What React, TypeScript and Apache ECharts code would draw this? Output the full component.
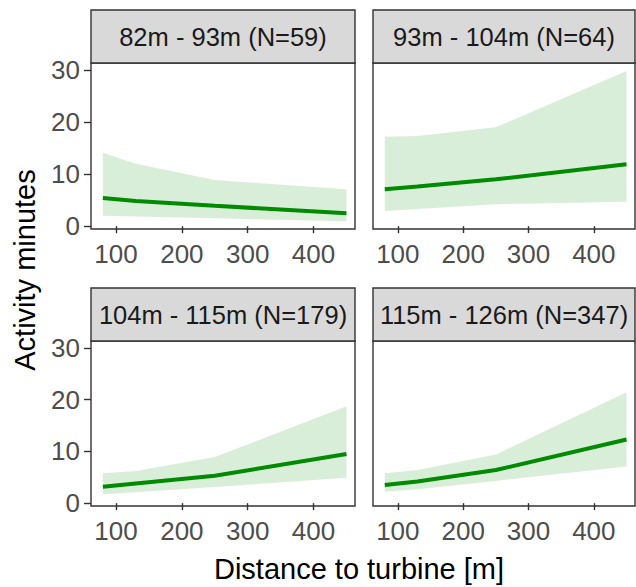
import React, { useEffect, useRef } from "react";
import * as echarts from "echarts";

const distances = [80, 130, 250, 450];
const panelTitles = [
  "82m - 93m (N=59)",
  "93m - 104m (N=64)",
  "104m - 115m (N=179)",
  "115m - 126m (N=347)",
];
const fitA = [5.4, 4.85, 3.9, 2.5];
const upperA = [14.1, 12.0, 8.85, 7.1];
const lowerA = [2.0, 1.85, 1.5, 0.95];

const fitB = [7.1, 7.6, 9.0, 11.9];
const upperB = [17.2, 17.3, 19.0, 29.8];
const lowerB = [2.9, 3.3, 4.2, 4.7];

const fitC = [3.15, 3.8, 5.3, 9.5];
const upperC = [5.8, 6.2, 8.9, 18.75];
const lowerC = [1.7, 2.1, 3.1, 4.9];

const fitD = [3.5, 4.2, 6.4, 12.3];
const upperD = [5.8, 6.4, 9.4, 21.45];
const lowerD = [2.2, 2.7, 4.3, 7.1];

const xTicks = [100, 200, 300, 400];
const yTicks = [0, 10, 20, 30];
const xTitle = "Distance to turbine [m]";
const yTitle = "Activity minutes";

const fits = [fitA, fitB, fitC, fitD];
const uppers = [upperA, upperB, upperC, upperD];
const lowers = [lowerA, lowerB, lowerC, lowerD];

const FONT = "'Liberation Sans', Arial, sans-serif";
const STRIP_H = 53;
const layout = [
  { left: 91, top: 63, width: 264, height: 166 },
  { left: 373, top: 63, width: 262, height: 166 },
  { left: 91, top: 341, width: 264, height: 165 },
  { left: 373, top: 341, width: 262, height: 165 },
];

export default function App() {
  const ref = useRef<HTMLDivElement>(null);
  useEffect(() => {
    document.body.style.margin = "0";
    const chart = echarts.init(ref.current!, null, { renderer: "svg" });
    const grids = layout.map((g) => ({
      left: g.left,
      top: g.top,
      width: g.width,
      height: g.height,
      show: true,
      backgroundColor: "#FFFFFF",
      borderColor: "#333333",
      borderWidth: 1.4,
      containLabel: false,
    }));
    const xAxes = layout.map((_, i) => ({
      type: "value",
      gridIndex: i,
      min: 62,
      max: 463,
      splitLine: { show: false },
      axisLine: { show: false },
      axisTick: {
        show: true,
        length: 7,
        customValues: xTicks,
        lineStyle: { color: "#333333", width: 1.4 },
      },
      axisLabel: {
        show: true,
        customValues: xTicks,
        color: "#4D4D4D",
        fontSize: 26,
        fontFamily: FONT,
        margin: 12,
      },
    }));
    const yAxes = layout.map((_, i) => ({
      type: "value",
      gridIndex: i,
      min: -0.55,
      max: 31.35,
      splitLine: { show: false },
      axisLine: { show: false },
      axisTick: {
        show: i % 2 === 0,
        length: 7,
        customValues: yTicks,
        lineStyle: { color: "#333333", width: 1.4 },
      },
      axisLabel: {
        show: i % 2 === 0,
        customValues: yTicks,
        color: "#4D4D4D",
        fontSize: 26,
        fontFamily: FONT,
        margin: 11,
      },
    }));
    const series: any[] = [];
    for (let i = 0; i < 4; i++) {
      const up = uppers[i];
      const lo = lowers[i];
      series.push({
        type: "custom",
        xAxisIndex: i,
        yAxisIndex: i,
        coordinateSystem: "cartesian2d",
        data: [[distances[0], lo[0]]],
        renderItem: (_params: any, api: any) => {
          const pts: number[][] = [];
          for (let k = 0; k < distances.length; k++) pts.push(api.coord([distances[k], up[k]]));
          for (let k = distances.length - 1; k >= 0; k--) pts.push(api.coord([distances[k], lo[k]]));
          return {
            type: "polygon",
            shape: { points: pts },
            style: { fill: "rgba(0,139,0,0.15)" },
          };
        },
        z: 1,
      });
      series.push({
        type: "line",
        xAxisIndex: i,
        yAxisIndex: i,
        symbol: "none",
        lineStyle: { color: "#008B00", width: 4 },
        data: distances.map((d, k) => [d, fits[i][k]]),
        z: 3,
      });
    }
    const graphics: any[] = [];
    layout.forEach((g, i) => {
      graphics.push({
        type: "rect",
        shape: { x: g.left, y: g.top - STRIP_H, width: g.width, height: STRIP_H },
        style: { fill: "#D9D9D9", stroke: "#333333", lineWidth: 1.4 },
        z: 10,
      });
      graphics.push({
        type: "text",
        x: g.left + g.width / 2,
        y: g.top - STRIP_H / 2,
        style: {
          text: panelTitles[i],
          fill: "#1A1A1A",
          font: `25.5px ${FONT}`,
          textAlign: "center",
          textVerticalAlign: "middle",
        },
        z: 11,
      });
    });
    graphics.push({
      type: "text",
      x: 359,
      y: 569,
      style: {
        text: xTitle,
        fill: "#000000",
        font: `29px ${FONT}`,
        textAlign: "center",
        textVerticalAlign: "middle",
      },
    });
    graphics.push({
      type: "text",
      x: 25,
      y: 270,
      rotation: Math.PI / 2,
      style: {
        text: yTitle,
        fill: "#000000",
        font: `29px ${FONT}`,
        textAlign: "center",
        textVerticalAlign: "middle",
      },
    });
    chart.setOption({
      animation: false,
      backgroundColor: "#FFFFFF",
      grid: grids,
      xAxis: xAxes,
      yAxis: yAxes,
      series,
      graphic: graphics,
    });
    return () => chart.dispose();
  }, []);
  return <div ref={ref} style={{ width: 636, height: 587 }} />;
}
